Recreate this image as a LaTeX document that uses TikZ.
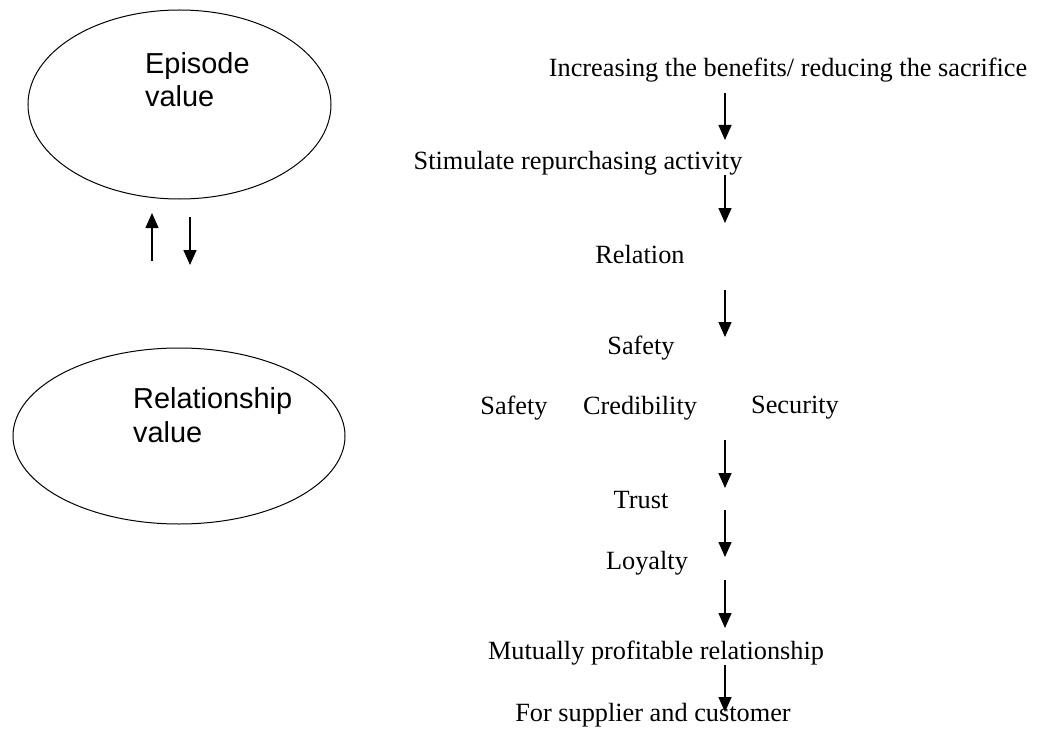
\documentclass[tikz,border=0pt]{standalone}
\usepackage{fontspec}
\setmainfont{Liberation Serif}
\newfontfamily\arialfont{Liberation Sans}
\usetikzlibrary{arrows.meta,shapes.geometric}
\tikzset{
  lbl/.style={inner sep=0pt, font=\fontsize{26.4}{30}\selectfont},
  oval/.style={draw, line width=1bp, ellipse, inner sep=0pt},
  ovaltext/.style={inner sep=0pt, anchor=base west, align=left, font=\arialfont\fontsize{29}{33.5}\selectfont},
  flow/.style={line width=1.5bp, -{Triangle[width=13bp,length=15bp]}}
}
\begin{document}
\begin{tikzpicture}[x=1bp,y=-1bp]
\useasboundingbox (0,0) rectangle (1044,730);
% left ellipses
\node[oval, minimum width=303bp, minimum height=189bp] (epi) at (179.5,104.5) {};
\node[ovaltext] (epit) at (145,107) {Episode\\value};
\node[oval, minimum width=332bp, minimum height=176bp] (relv) at (179,436) {};
\node[ovaltext] (relvt) at (133,442) {Relationship\\value};
\coordinate (u1) at (152,261);
\coordinate (u2) at (152,213);
\coordinate (d1) at (190,217);
\coordinate (d2) at (190,265);
\draw[flow] (u1) -- (u2);
\draw[flow] (d1) -- (d2);
% right chain
\node[lbl] (inc) at (788,70) {Increasing the benefits/ reducing the sacrifice};
\node[lbl] (stim) at (578,163) {Stimulate repurchasing activity};
\node[lbl] (rel) at (640,255) {Relation};
\node[lbl] (saf1) at (641,348) {Safety};
\node[lbl] (saf2) at (514,408) {Safety};
\node[lbl] (cred) at (640,408) {Credibility};
\node[lbl] (sec) at (795,408) {Security};
\node[lbl] (trust) at (641,500) {Trust};
\node[lbl] (loyal) at (647,563) {Loyalty};
\node[lbl] (mut) at (656,653) {Mutually profitable relationship};
\node[lbl] (for) at (653,715) {For supplier and customer};
\foreach \n/\a/\b in {1/93/140,2/175/223,3/290/337,4/440/488,5/510/557,6/580/628,7/665/712}{
  \coordinate (s\n) at (725,\a);
  \coordinate (e\n) at (725,\b);
  \draw[flow] (s\n) -- (e\n);
}
\end{tikzpicture}
\end{document}
